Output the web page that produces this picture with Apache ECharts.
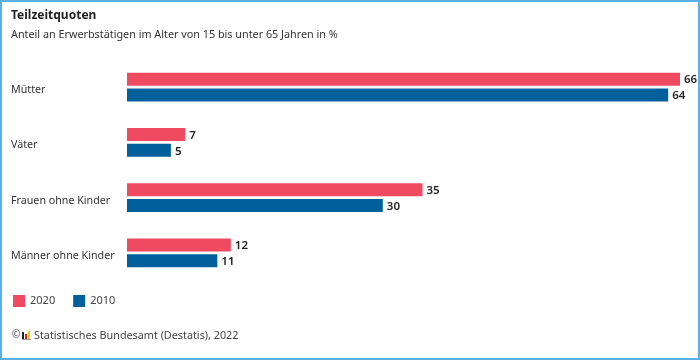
<!DOCTYPE html>
<html lang="de">
<head>
<meta charset="utf-8">
<title>Teilzeitquoten</title>
<script src="https://cdn.jsdelivr.net/npm/echarts@6/dist/echarts.min.js"></script>
<style>
  html, body { margin: 0; padding: 0; background: #fff; }
  #chart { width: 700px; height: 360px; }
</style>
</head>
<body>
<div id="chart"></div>
<script>
const categories = ['Mütter', 'Väter', 'Frauen ohne Kinder', 'Männer ohne Kinder']
// Balkenlängen, Beschriftung ist gerundet
const values2020 = [65.5, 6.9, 35.0, 12.3]
const values2010 = [64.1, 5.2, 30.3, 10.7]

const fontName = '"Noto Sans", sans-serif'
const textColor = '#333333'

const chart = echarts.init(document.getElementById('chart'), null, { renderer: 'canvas' })

const makeSeries = (name, data, color) => ({
  name,
  type: 'bar',
  data,
  barWidth: 13,
  barGap: '23%',
  itemStyle: { color },
  label: {
    show: true,
    position: 'right',
    distance: 4,
    offset: [0, 1],
    color: '#222222',
    fontFamily: fontName,
    fontSize: 11.5,
    fontWeight: 600,
    formatter: (p) => String(Math.round(p.value))
  }
})

chart.setOption({
  animation: false,
  backgroundColor: '#ffffff',
  textStyle: { fontFamily: fontName },
  title: [
    {
      text: 'Teilzeitquoten',
      left: 6,
      top: 5,
      textStyle: { fontFamily: fontName, fontSize: 12, fontWeight: 700, color: '#222222' }
    },
    {
      text: 'Anteil an Erwerbstätigen im Alter von 15 bis unter 65 Jahren in %',
      left: 6,
      top: 24,
      textStyle: { fontFamily: fontName, fontSize: 10.8, fontWeight: 400, color: textColor }
    },
    {
      text: 'Statistisches Bundesamt (Destatis), 2022',
      left: 29,
      top: 325,
      textStyle: { fontFamily: fontName, fontSize: 10.8, fontWeight: 400, color: '#444444' }
    }
  ],
  legend: {
    left: 13,
    top: 295,
    padding: 0,
    icon: 'rect',
    itemWidth: 12,
    itemHeight: 12,
    itemGap: 18,
    textStyle: { fontFamily: fontName, fontSize: 11, color: '#444444' },
    data: ['2020', '2010']
  },
  grid: { left: 127, top: 59.5, width: 553, height: 221 },
  xAxis: { type: 'value', min: 0, max: 65.5, show: false },
  yAxis: {
    type: 'category',
    data: categories,
    inverse: true,
    axisLine: { show: false },
    axisTick: { show: false },
    axisLabel: {
      margin: 116,
      align: 'left',
      verticalAlign: 'top',
      lineHeight: 6,
      color: textColor,
      fontFamily: fontName,
      fontSize: 10.7
    }
  },
  series: [
    makeSeries('2020', values2020, '#ef4a60'),
    makeSeries('2010', values2010, '#00609c')
  ],
  graphic: [
    // Rahmen
    { type: 'rect', shape: { x: 1, y: 1, width: 698, height: 358 }, style: { fill: 'none', stroke: '#5ab1ea', lineWidth: 2 } },
    // Copyright und Logo
    { type: 'text', left: 12, top: 330, style: { text: '©', fontFamily: fontName, fontSize: 10, fill: '#444444' } },
    { type: 'rect', shape: { x: 22, y: 332, width: 2, height: 7 }, style: { fill: '#222222' } },
    { type: 'rect', shape: { x: 25, y: 334, width: 2, height: 5 }, style: { fill: '#d8212c' } },
    { type: 'rect', shape: { x: 28, y: 331, width: 2, height: 8 }, style: { fill: '#f4c20d' } },
    { type: 'rect', shape: { x: 22, y: 339, width: 9, height: 1 }, style: { fill: '#999999' } }
  ]
})
</script>
</body>
</html>
